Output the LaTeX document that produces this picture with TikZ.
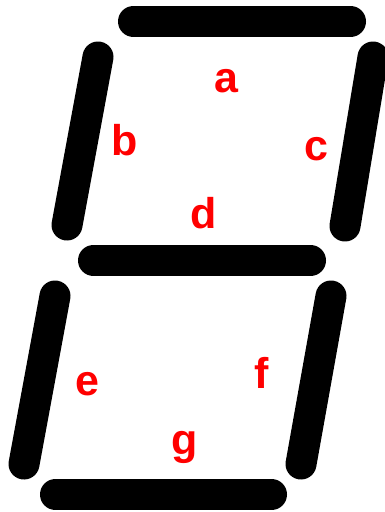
\documentclass[tikz,border=0pt]{standalone}
\usepackage{fontspec}
\setmainfont{Liberation Sans}
\usetikzlibrary{positioning}
\definecolor{seglabel}{HTML}{FF0000}
\definecolor{segbar}  {HTML}{000000}

\begin{document}
\begin{tikzpicture}[x=1pt, y=-1pt,
    segment/.style={draw=segbar, line width=31pt, line cap=round},
    letter/.style={text=seglabel, font=\fontsize{43}{50}\selectfont\bfseries, anchor=base, inner sep=0pt}]
  \useasboundingbox (0,0) rectangle (385,512);
  % segment end points
  \coordinate (a1) at (133.5,21.5);  \coordinate (a2) at (350.5,21.5);
  \coordinate (b1) at (98,57);       \coordinate (b2) at (67,225);
  \coordinate (c1) at (373,57);      \coordinate (c2) at (345,226);
  \coordinate (d1) at (93.5,260.5);  \coordinate (d2) at (310.5,260.5);
  \coordinate (e1) at (55,296);      \coordinate (e2) at (24,464);
  \coordinate (f1) at (331,296);     \coordinate (f2) at (301,464);
  \coordinate (g1) at (55.5,494.5);  \coordinate (g2) at (271.5,494.5);
  \foreach \s in {a,b,c,d,e,f,g}
    \draw[segment] (\s1) -- (\s2);
  % labels
  \node[letter] (la) at (226,92.5) {a};
  \node[letter] (lb) at (125,155) {b};
  \node[letter] (lc) at (316,160) {c};
  \node[letter] (ld) at (204,228) {d};
  \node[letter] (le) at (87,395) {e};
  \node[letter] (lf) at (262,388) {f};
  \node[letter] (lg) at (185,454) {g};
\end{tikzpicture}
\end{document}
